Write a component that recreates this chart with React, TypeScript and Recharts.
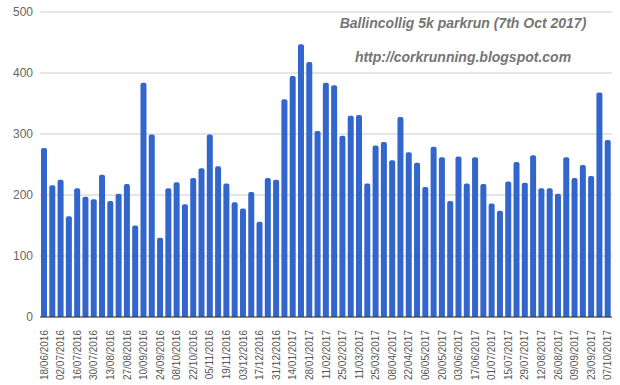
import { Bar, BarChart, CartesianGrid, XAxis, YAxis } from "recharts";

const dates = [
  "18/06/2016", "25/06/2016", "02/07/2016", "09/07/2016", "16/07/2016", "23/07/2016",
  "30/07/2016", "06/08/2016", "13/08/2016", "20/08/2016", "27/08/2016", "03/09/2016",
  "10/09/2016", "17/09/2016", "24/09/2016", "01/10/2016", "08/10/2016", "15/10/2016",
  "22/10/2016", "29/10/2016", "05/11/2016", "12/11/2016", "19/11/2016", "26/11/2016",
  "03/12/2016", "10/12/2016", "17/12/2016", "24/12/2016", "31/12/2016",
  "07/01/2017", "14/01/2017", "21/01/2017", "28/01/2017", "04/02/2017", "11/02/2017",
  "18/02/2017", "25/02/2017", "04/03/2017", "11/03/2017", "18/03/2017", "25/03/2017",
  "01/04/2017", "08/04/2017", "15/04/2017", "22/04/2017", "29/04/2017", "06/05/2017",
  "13/05/2017", "20/05/2017", "27/05/2017", "03/06/2017", "10/06/2017", "17/06/2017",
  "24/06/2017", "01/07/2017", "08/07/2017", "15/07/2017", "22/07/2017", "29/07/2017",
  "05/08/2017", "12/08/2017", "19/08/2017", "26/08/2017", "02/09/2017", "09/09/2017",
  "16/09/2017", "23/09/2017", "30/09/2017", "07/10/2017",
];

const runners = [
  277, 216, 225, 165, 211, 197, 193, 233, 190, 202, 218, 150,
  384, 299, 130, 211, 221, 185, 228, 244, 299, 247, 219, 188,
  178, 205, 156, 228, 225, 357, 395, 447, 418, 305, 384, 380,
  297, 330, 331, 219, 281, 287, 257, 328, 270, 253, 213, 279,
  262, 190, 263, 219, 262, 218, 186, 174, 222, 254, 220, 265,
  211, 211, 202, 262, 228, 249, 231, 368, 290,
];

const yTicks = [0, 100, 200, 300, 400, 500];

const title = "Ballincollig 5k parkrun (7th Oct 2017)";
const subtitle = "http://corkrunning.blogspot.com";

const data = dates.map((date, i) => ({ date, runners: runners[i] }));

const font = "Arial, 'Liberation Sans', sans-serif";

function DateTick({ x, y, payload }: any) {
  return (
    <text
      x={x}
      y={y}
      transform={`rotate(-90, ${x}, ${y})`}
      textAnchor="end"
      dominantBaseline="central"
      dx={-5}
      fill="#555"
      fontSize={10}
      fontFamily={font}
    >
      {payload.value}
    </text>
  );
}

const headingStyle = {
  position: "absolute" as const,
  left: 463,
  transform: "translateX(-50%)",
  whiteSpace: "nowrap" as const,
  fontFamily: font,
  fontSize: 14,
  fontWeight: "bold" as const,
  fontStyle: "italic" as const,
  color: "#757575",
};

export default function App() {
  return (
    <div style={{ position: "absolute", left: 0, top: 0, width: 620, height: 385, background: "#fff" }}>
      <BarChart
        width={620}
        height={385}
        data={data}
        margin={{ top: 12, right: 8, left: 0, bottom: 0 }}
      >
        <CartesianGrid stroke="#ccc" vertical={false} />
        <XAxis
          dataKey="date"
          interval={1}
          height={68}
          tick={<DateTick />}
          tickLine={false}
          axisLine={{ stroke: "#333" }}
        />
        <YAxis
          domain={[0, 500]}
          ticks={yTicks}
          width={40}
          tickSize={0}
          tickMargin={7}
          axisLine={false}
          tickLine={false}
          tick={{ fill: "#666", fontSize: 12, fontFamily: font }}
        />
        <Bar dataKey="runners" fill="#3366cc" barSize={6} radius={[2, 2, 0, 0]} isAnimationActive={false} />
      </BarChart>
      <div style={{ ...headingStyle, top: 15 }}>{title}</div>
      <div style={{ ...headingStyle, top: 49 }}>{subtitle}</div>
    </div>
  );
}
